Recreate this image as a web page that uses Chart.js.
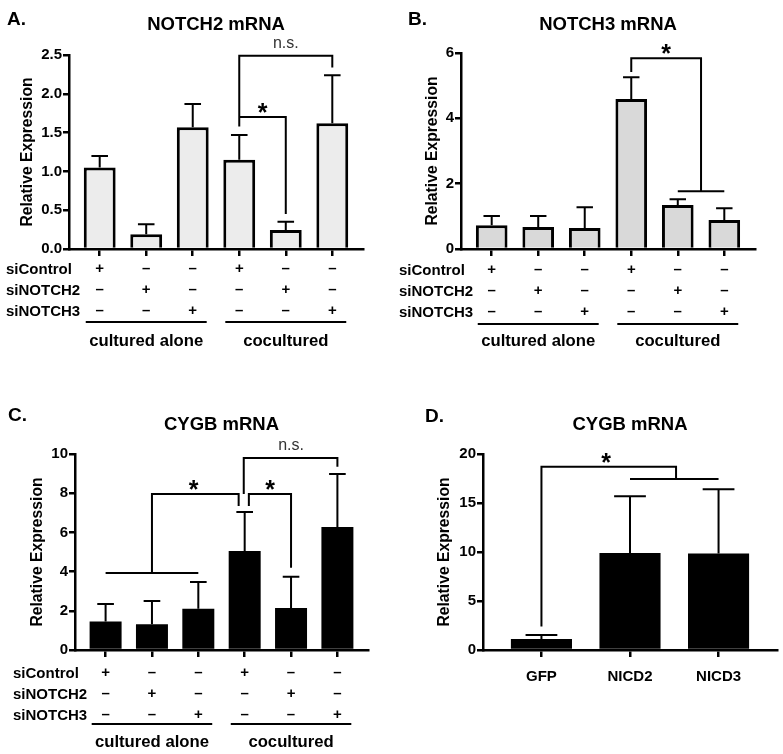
<!DOCTYPE html>
<html>
<head>
<meta charset="utf-8">
<script src="https://cdn.jsdelivr.net/npm/chart.js@4/dist/chart.umd.min.js"></script>
<style>
  body { margin: 0; background: #fff; }
  #wrap { position: relative; width: 783px; height: 754px; }
  canvas { position: absolute; }
</style>
</head>
<body>
<div id="wrap">
  <canvas id="panelA" width="391" height="377" style="left:0;top:0"></canvas>
  <canvas id="panelB" width="392" height="377" style="left:391px;top:0"></canvas>
  <canvas id="panelC" width="391" height="377" style="left:0;top:377px"></canvas>
  <canvas id="panelD" width="392" height="377" style="left:391px;top:377px"></canvas>
</div>
<script>
// --- data ---
const rowLabels = ['siControl', 'siNOTCH2', 'siNOTCH3'];
const rowSigns = [
  ['+', '–', '–', '+', '–', '–'],
  ['–', '+', '–', '–', '+', '–'],
  ['–', '–', '+', '–', '–', '+']
];
const groupLabels = ['cultured alone', 'cocultured'];

// A. NOTCH2 mRNA
const notch2Mean = [1.05, 0.19, 1.57, 1.15, 0.245, 1.62];
const notch2Err = [0.15, 0.13, 0.30, 0.32, 0.105, 0.62];
const notch2Ticks = [0, 0.5, 1, 1.5, 2, 2.5];
const notch2TickLabels = ['0.0', '0.5', '1.0', '1.5', '2.0', '2.5'];
const notch2Brackets = [
  { path: [[3, 1.58], [3, 2.49], [5, 2.49], [5, 2.34]], label: 'n.s.', at: [4, 2.49] },
  { path: [[3, 1.70], [4, 1.70], [4, 0.45]], label: '*', at: [3.5, 1.70] }
];

// B. NOTCH3 mRNA
const notch3Mean = [0.73, 0.67, 0.64, 4.59, 1.35, 0.89];
const notch3Err = [0.28, 0.34, 0.64, 0.67, 0.17, 0.36];
const notch3Ticks = [0, 2, 4, 6];
const notch3TickLabels = ['0', '2', '4', '6'];
const notch3Brackets = [
  { path: [[3, 5.42], [3, 5.84], [4.5, 5.84], [4.5, 1.77]], label: '*', at: [3.75, 5.84] },
  { path: [[4, 1.77], [5, 1.77]] }
];

// C. CYGB mRNA (siRNA)
const cygbMean = [1.45, 1.32, 2.10, 5.05, 2.14, 6.28];
const cygbErr = [0.90, 1.18, 1.37, 1.99, 1.60, 2.70];
const cygbTicks = [0, 2, 4, 6, 8, 10];
const cygbTickLabels = ['0', '2', '4', '6', '8', '10'];
const cygbBrackets = [
  { path: [[0, 3.93], [2, 3.93]] },
  { path: [[1, 3.93], [1, 7.96], [2.87, 7.96], [2.87, 7.35]], label: '*', at: [1.9, 7.96] },
  { path: [[3.09, 7.35], [3.09, 7.96], [4, 7.96], [4, 4.2]], label: '*', at: [3.55, 7.96] },
  { path: [[2.98, 7.96], [2.98, 9.8], [5, 9.8], [5, 9.35]], label: 'n.s.', at: [4, 9.8] }
];

// D. CYGB mRNA (NICD)
const nicdLabels = ['GFP', 'NICD2', 'NICD3'];
const nicdMean = [1.12, 9.9, 9.85];
const nicdErr = [0.41, 5.8, 6.55];
const nicdTicks = [0, 5, 10, 15, 20];
const nicdTickLabels = ['0', '5', '10', '15', '20'];
const nicdBrackets = [
  { path: [[0, 2.4], [0, 18.7], [1.52, 18.7], [1.52, 17.45]], label: '*', at: [0.73, 18.7] },
  { path: [[1, 17.45], [2, 17.45]] }
];

const FONT = "'Liberation Sans', Arial, Helvetica, sans-serif";
Chart.defaults.font.family = FONT;

// draw text so that its glyph box is centred on cy
function drawCentered(ctx, text, x, cy, font, align) {
  ctx.font = font;
  ctx.textAlign = align || 'center';
  ctx.textBaseline = 'alphabetic';
  const m = ctx.measureText(text);
  ctx.fillText(text, x, cy + (m.actualBoundingBoxAscent - m.actualBoundingBoxDescent) / 2);
}

const figurePlugin = {
  id: 'figure',
  afterDatasetsDraw(chart, args, o) {
    const ctx = chart.ctx;
    const y = chart.scales.y;
    ctx.save();
    ctx.strokeStyle = '#000';
    ctx.lineWidth = 2;
    chart.getDatasetMeta(0).data.forEach((bar, i) => {
      const top = y.getPixelForValue(o.means[i] + o.errors[i]);
      const half = bar.width * 0.26;
      ctx.beginPath();
      ctx.moveTo(bar.x, bar.y);
      ctx.lineTo(bar.x, top);
      ctx.moveTo(bar.x - half, top);
      ctx.lineTo(bar.x + half, top);
      ctx.stroke();
    });
    ctx.restore();
  },
  afterDraw(chart, args, o) {
    const ctx = chart.ctx;
    const xs = chart.scales.x, ys = chart.scales.y;
    const area = chart.chartArea;
    ctx.save();
    ctx.fillStyle = '#000';

    // panel letter, title, y title
    drawCentered(ctx, o.letter, o.letterX, o.letterY, 'bold 19px ' + FONT, 'left');
    drawCentered(ctx, o.title, (area.left + area.right) / 2, o.titleY, 'bold 18.5px ' + FONT);
    ctx.save();
    ctx.translate(o.yTitleX, (area.top + area.bottom) / 2);
    ctx.rotate(-Math.PI / 2);
    drawCentered(ctx, 'Relative Expression', 0, 0, 'bold 15.7px ' + FONT);
    ctx.restore();

    // significance brackets
    ctx.strokeStyle = '#000';
    ctx.lineWidth = 2;
    o.brackets.forEach(b => {
      ctx.beginPath();
      b.path.forEach((p, i) => {
        const px = xs.getPixelForValue(p[0]), py = ys.getPixelForValue(p[1]);
        if (i === 0) ctx.moveTo(px, py); else ctx.lineTo(px, py);
      });
      ctx.stroke();
      if (b.label) {
        const lx = xs.getPixelForValue(b.at[0]), ly = ys.getPixelForValue(b.at[1]);
        if (b.label === '*') {
          drawCentered(ctx, '*', lx, ly - 9, 'bold 25px ' + FONT);
        } else {
          ctx.fillStyle = '#333';
          drawCentered(ctx, b.label, lx, ly - 12, '16px ' + FONT);
          ctx.fillStyle = '#000';
        }
      }
    });

    // +/- table under the axis
    if (o.table) {
      const base = area.bottom;
      rowLabels.forEach((lab, r) => {
        const cy = base + o.tableTop + r * 21;
        drawCentered(ctx, lab, o.rowX, cy, 'bold 15px ' + FONT, 'left');
        rowSigns[r].forEach((s, i) => {
          drawCentered(ctx, s, xs.getPixelForValue(i), cy, 'bold 15px ' + FONT);
        });
      });
      groupLabels.forEach((g, k) => {
        const y0 = base + o.lineTop;
        ctx.beginPath();
        ctx.moveTo(xs.getPixelForValue(k * 3 - 0.3), y0);
        ctx.lineTo(xs.getPixelForValue(k * 3 + 2.3), y0);
        ctx.stroke();
        drawCentered(ctx, g, xs.getPixelForValue(k * 3 + 1), base + 91, 'bold 16.7px ' + FONT);
      });
    }
    ctx.restore();
  }
};

function makePanel(id, p) {
  const n = p.means.length;
  return new Chart(document.getElementById(id), {
    type: 'bar',
    data: {
      datasets: [{
        data: p.means.map((v, i) => ({ x: i, y: v })),
        backgroundColor: p.fill,
        borderColor: '#000',
        borderWidth: p.border,
        borderSkipped: 'bottom',
        barPercentage: p.barPct,
        categoryPercentage: 1
      }]
    },
    options: {
      responsive: false,
      animation: false,
      layout: { padding: { left: 0, top: p.padTop, right: p.padRight, bottom: 0 } },
      plugins: {
        legend: { display: false },
        tooltip: { enabled: false },
        figure: {
          means: p.means, errors: p.errors, brackets: p.brackets,
          letter: p.letter, letterX: p.letterX, letterY: p.letterY,
          title: p.title, titleY: p.titleY, yTitleX: p.yTitleX,
          table: p.table, tableTop: p.tableTop, lineTop: p.lineTop, rowX: p.rowX
        }
      },
      scales: {
        x: {
          type: 'linear',
          offset: false,
          min: -0.66,
          max: n - 1 + 0.66,
          afterFit: s => { s.height = p.xHeight; },
          afterBuildTicks: s => { s.ticks = p.means.map((v, i) => ({ value: i })); },
          grid: { display: true, offset: false, drawOnChartArea: false, drawTicks: true, tickLength: 7, color: '#000', lineWidth: 2.5 },
          border: { display: true, color: '#000', width: 2.5 },
          ticks: {
            autoSkip: false, maxRotation: 0, padding: 11, color: '#000',
            font: { size: 15, weight: 'bold' },
            callback: v => (p.xLabels ? p.xLabels[v] : '')
          }
        },
        y: {
          min: 0,
          max: p.yTicks[p.yTicks.length - 1],
          afterFit: s => { s.width = p.yWidth; },
          afterBuildTicks: s => { s.ticks = p.yTicks.map(v => ({ value: v })); },
          grid: { display: true, drawOnChartArea: false, drawTicks: true, tickLength: 6, color: '#000', lineWidth: 2.5 },
          border: { display: true, color: '#000', width: 2.5 },
          ticks: {
            padding: 1, color: '#000',
            font: { size: 15, weight: 'bold' },
            callback: (v, i) => p.yTickLabels[i]
          }
        }
      }
    },
    plugins: [figurePlugin]
  });
}

makePanel('panelA', {
  means: notch2Mean, errors: notch2Err, brackets: notch2Brackets,
  yTicks: notch2Ticks, yTickLabels: notch2TickLabels,
  fill: '#ececec', border: 3, barPct: 0.685,
  padTop: 55, padRight: 28, yWidth: 69, xHeight: 128,
  letter: 'A.', letterX: 7, letterY: 18, title: 'NOTCH2 mRNA', titleY: 23, yTitleX: 27,
  table: true, tableTop: 19, lineTop: 73, rowX: 6
});

makePanel('panelB', {
  means: notch3Mean, errors: notch3Err, brackets: notch3Brackets,
  yTicks: notch3Ticks, yTickLabels: notch3TickLabels,
  fill: '#d9d9d9', border: 3, barPct: 0.68,
  padTop: 53, padRight: 28, yWidth: 70, xHeight: 128,
  letter: 'B.', letterX: 17, letterY: 18, title: 'NOTCH3 mRNA', titleY: 23, yTitleX: 41,
  table: true, tableTop: 20, lineTop: 75, rowX: 8
});

makePanel('panelC', {
  means: cygbMean, errors: cygbErr, brackets: cygbBrackets,
  yTicks: cygbTicks, yTickLabels: cygbTickLabels,
  fill: '#000', border: 0, barPct: 0.69,
  padTop: 77, padRight: 23, yWidth: 75, xHeight: 104,
  letter: 'C.', letterX: 8, letterY: 37, title: 'CYGB mRNA', titleY: 46, yTitleX: 37,
  table: true, tableTop: 22, lineTop: 74, rowX: 13
});

makePanel('panelD', {
  means: nicdMean, errors: nicdErr, brackets: nicdBrackets, xLabels: nicdLabels,
  yTicks: nicdTicks, yTickLabels: nicdTickLabels,
  fill: '#000', border: 0, barPct: 0.69,
  padTop: 77, padRight: 6, yWidth: 92, xHeight: 104,
  letter: 'D.', letterX: 34, letterY: 38, title: 'CYGB mRNA', titleY: 46, yTitleX: 53,
  table: false
});
</script>
</body>
</html>
